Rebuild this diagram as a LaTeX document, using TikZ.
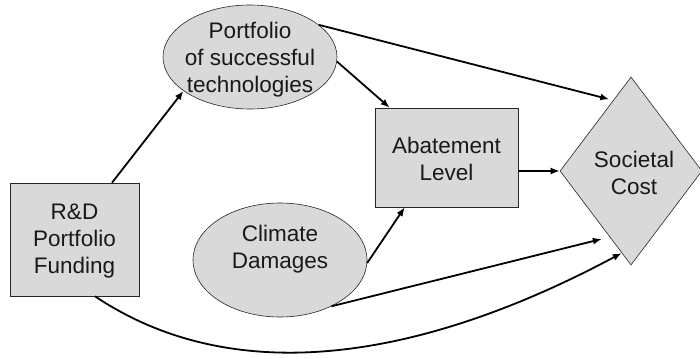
\documentclass[tikz,border=0pt]{standalone}
\usepackage{fontspec}
\setmainfont{Liberation Sans}
\usetikzlibrary{shapes.geometric,arrows.meta,calc}
\begin{document}
\begin{tikzpicture}[x=1pt,y=-1pt,
  shapebox/.style={draw=black!85,line width=0.6pt,fill=black!15,inner sep=0pt},
  lbl/.style={align=center,text=black!90,font=\fontsize{22.5}{27}\selectfont,inner sep=0pt},
  conn/.style={line width=1.8pt,-{Latex[length=9pt,width=7pt]}}]
\useasboundingbox (0,0) rectangle (700,358);
% shapes
\node[shapebox,rectangle,minimum width=129pt,minimum height=113pt] (rd) at (74.5,239.5) {};
\node[shapebox,ellipse,minimum width=174pt,minimum height=104pt] (port) at (250,57) {};
\node[shapebox,rectangle,minimum width=143pt,minimum height=99pt] (abate) at (446.5,157.5) {};
\node[shapebox,ellipse,minimum width=174pt,minimum height=114pt] (clim) at (280,260) {};
\node[shapebox,diamond,minimum width=142pt,minimum height=188pt] (soc) at (631,171) {};
% texts
\node[lbl] (rdt) at (74.5,241) {R\&D\\Portfolio\\Funding};
\node[lbl] (portt) at (250,60) {Portfolio\\of successful\\technologies};
\node[lbl] (abatet) at (446.5,158.5) {Abatement\\Level};
\node[lbl] (climt) at (280,249) {Climate\\Damages};
\node[lbl] (soct) at (634,172.5) {Societal\\Cost};
% connectors
\draw[conn] ([xshift=37.5pt]rd.north) -- (port.207);
\draw[conn,shorten >=4pt] (port.25) -- ($(soc.west)!0.75!(soc.north)$);
\draw[conn] (port.-3) -- ([xshift=15pt]abate.north west);
\draw[conn] (clim.-2) -- ([xshift=30pt]abate.south west);
\draw[conn] (abate.east|-soc.west) -- (soc.west);
\draw[conn,shorten >=8pt] (clim.-42) -- ($(soc.west)!0.7!(soc.south)$);
\draw[conn] ([xshift=20.5pt]rd.south) .. controls (250,400) and (450,345) .. ($(soc.west)!0.87!(soc.south)$);
\end{tikzpicture}
\end{document}
